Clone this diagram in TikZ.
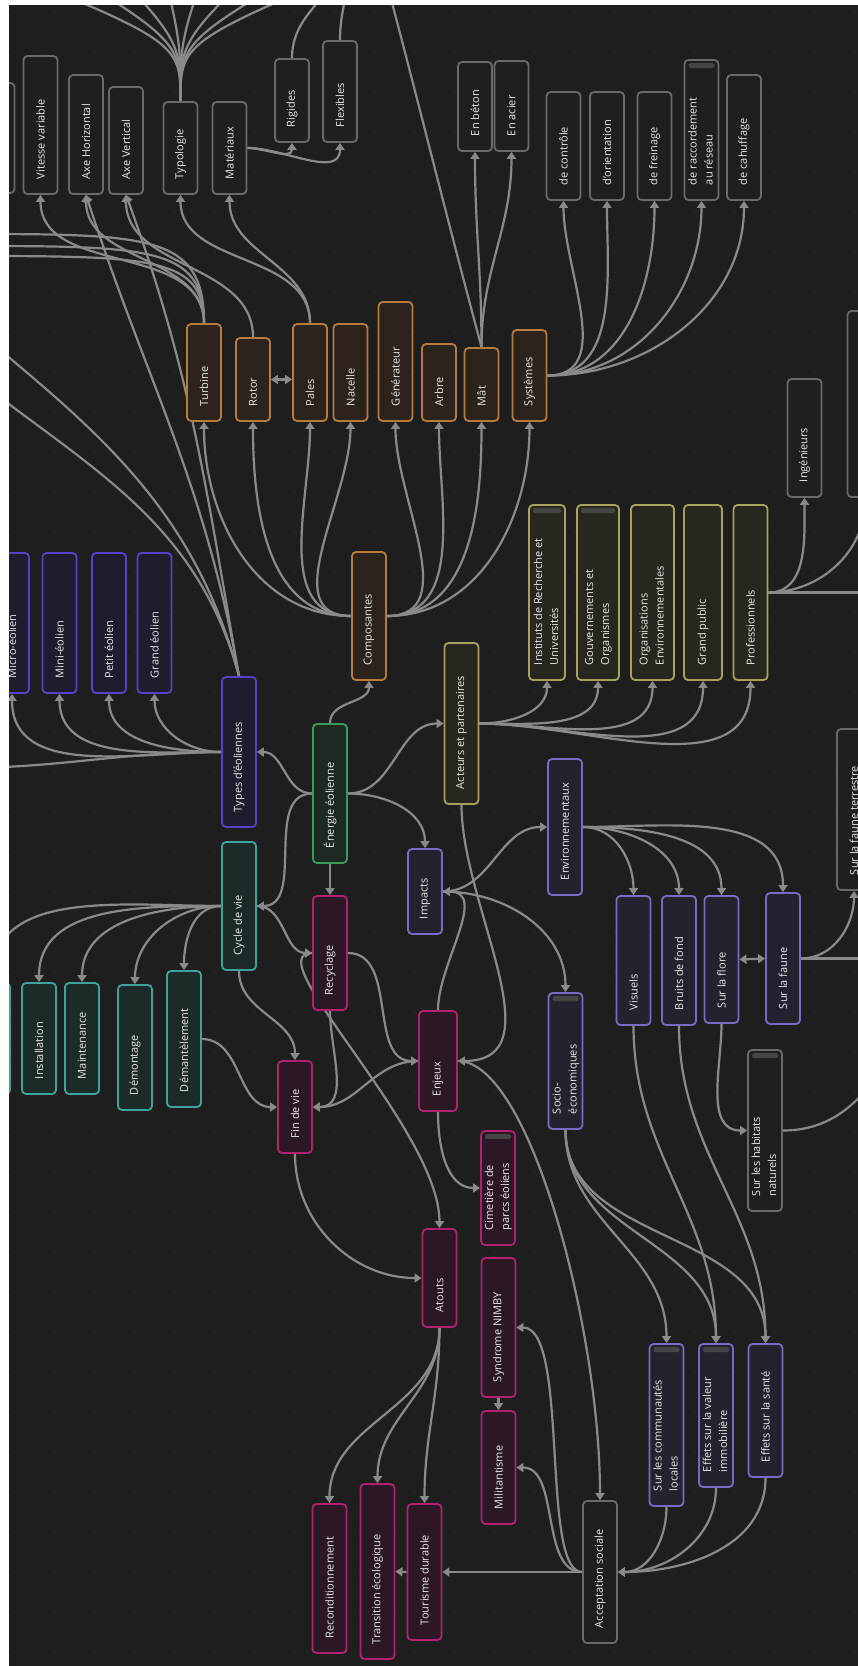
\documentclass[tikz,border=0pt]{standalone}
\usepackage{fontspec}
\setmainfont{Open Sans}
\usepackage{graphicx}
\usetikzlibrary{arrows.meta}
\definecolor{fond}{HTML}{1E1E1E}
\definecolor{point}{HTML}{2C2C2C}
\definecolor{lien}{HTML}{8A8A8A}
\definecolor{txt}{HTML}{E8E8E8}
\definecolor{barre}{HTML}{454545}
\definecolor{grisb}{HTML}{6A6A6A}
\definecolor{grisf}{HTML}{1F1F1F}
\definecolor{orb}{HTML}{B87B3F}
\definecolor{orf}{HTML}{2C241C}
\definecolor{blb}{HTML}{5A40C8}
\definecolor{blf}{HTML}{1F1C2E}
\definecolor{gnb}{HTML}{3C9A5E}
\definecolor{gnf}{HTML}{1C2A21}
\definecolor{tlb}{HTML}{3FA39B}
\definecolor{tlf}{HTML}{1C2A2A}
\definecolor{mgb}{HTML}{B0236C}
\definecolor{mgf}{HTML}{2B1824}
\definecolor{olb}{HTML}{A5A35C}
\definecolor{olf}{HTML}{28271F}
\definecolor{lvb}{HTML}{7C69C4}
\definecolor{lvf}{HTML}{25222F}
% rotated labels, set from the bottom of the box
\newcommand{\vt}[2]{\rotatebox{90}{\makebox[\dimexpr#1pt-30pt\relax][l]{#2}}}
\newcommand{\vtt}[3]{\rotatebox{90}{\makebox[\dimexpr#1pt-30pt\relax][l]{\begin{tabular}{@{}l@{}}#2\\#3\end{tabular}}}}
\pgfdeclarelayer{back}
\pgfdeclarelayer{links}
\pgfsetlayers{back,links,main}

\begin{document}
\begin{tikzpicture}[x=1pt,y=-1pt,
    box/.style={draw, line width=1.8pt, rounded corners=4pt, inner sep=0pt,
                minimum width=34, text=txt, font=\fontsize{11}{16}\selectfont},
    gr/.style={box, draw=grisb, fill=grisf},
    or/.style={box, draw=orb, fill=orf},
    bl/.style={box, draw=blb, fill=blf},
    gn/.style={box, draw=gnb, fill=gnf},
    tl/.style={box, draw=tlb, fill=tlf},
    mg/.style={box, draw=mgb, fill=mgf},
    ol/.style={box, draw=olb, fill=olf},
    lv/.style={box, draw=lvb, fill=lvf},
    hdr/.style={path picture={\fill[barre, rounded corners=1.5pt]
        ([xshift=4pt,yshift=-3pt]path picture bounding box.north west) rectangle
        ([xshift=-4pt,yshift=-8pt]path picture bounding box.north east);}},
    arr/.style={draw=lien, line width=2.2pt, -{Triangle[length=7pt,width=9pt]}},
    ln/.style={draw=lien, line width=2.2pt},
    dbl/.style={draw=lien, line width=2.2pt,
                {Triangle[length=7pt,width=9pt]}-{Triangle[length=7pt,width=9pt]}}]
\useasboundingbox (0,0) rectangle (858,1666);
\begin{pgfonlayer}{back}
  \fill[fond] (0,0) rectangle (858,1666);
  \foreach \i in {0,...,42} {
    \foreach \j in {0,...,83} {
      \fill[point] (\i*20+15,\j*20+12) circle[radius=0.8pt];
    }
  }
\end{pgfonlayer}

% centre
\node[gn, minimum height=139] (ee) at (330,793.5) {\vt{139}{Énergie éolienne}};

% composantes
\node[or, minimum height=128] (compo) at (369,616) {\vt{128}{Composantes}};
\node[or, minimum height=97] (turbine) at (204,372.5) {\vt{97}{Turbine}};
\node[or, minimum height=83] (rotor) at (253,379.5) {\vt{83}{Rotor}};
\node[or, minimum height=97] (pales) at (310,372.5) {\vt{97}{Pales}};
\node[or, minimum height=97] (nacelle) at (350.5,372.5) {\vt{97}{Nacelle}};
\node[or, minimum height=119] (gener) at (395.5,361.5) {\vt{119}{Générateur}};
\node[or, minimum height=77] (arbre) at (439,382.5) {\vt{77}{Arbre}};
\node[or, minimum height=73] (mat) at (481.5,384.5) {\vt{73}{Mât}};
\node[or, minimum height=91] (syst) at (529.5,375.5) {\vt{91}{Systèmes}};

\node[gr, minimum height=110] (vfixe) at (-2.5,138) {};
\node[gr, minimum height=138] (vitesse) at (40.5,125) {\vt{138}{Vitesse variable}};
\node[gr, minimum height=119] (axeh) at (86,134.5) {\vt{119}{Axe Horizontal}};
\node[gr, minimum height=107] (axev) at (126,140.5) {\vt{107}{Axe Vertical}};
\node[gr, minimum height=92] (typo) at (180.5,148) {\vt{92}{Typologie}};
\node[gr, minimum height=92] (mater) at (229.5,148) {\vt{92}{Matériaux}};
\node[gr, minimum height=83] (rigides) at (292,100.5) {\vt{83}{Rigides}};
\node[gr, minimum height=101] (flex) at (340,91.5) {\vt{101}{Flexibles}};
\node[gr, minimum height=89] (beton) at (475,106.5) {\vt{89}{En béton}};
\node[gr, minimum height=90] (acier) at (511.5,106) {\vt{90}{En acier}};
\node[gr, minimum height=108] (ctrl) at (563.5,146) {\vt{108}{de contrôle}};
\node[gr, minimum height=108] (orient) at (607,146) {\vt{108}{d'orientation}};
\node[gr, minimum height=108] (frein) at (654.5,146) {\vt{108}{de freinage}};
\node[gr, hdr, minimum height=140] (raccord) at (701.5,130) {\vtt{140}{de raccordement}{au réseau}};
\node[gr, minimum height=125] (chauf) at (744,137.5) {\vt{125}{de cahuffage}};

% types
\node[bl, minimum height=150] (types) at (239,752) {\vt{150}{Types d'éoliennes}};
\node[bl, minimum height=140] (micro) at (12,623) {\vt{140}{Micro-éolien}};
\node[bl, minimum height=140] (mini) at (59.5,623) {\vt{140}{Mini-éolien}};
\node[bl, minimum height=140] (petit) at (109,623) {\vt{140}{Petit éolien}};
\node[bl, minimum height=140] (grand) at (154.5,623) {\vt{140}{Grand éolien}};

% cycle de vie
\node[tl, minimum height=128] (cycle) at (239,906) {\vt{128}{Cycle de vie}};
\node[tl, minimum height=111] (tealp) at (-7,1038.5) {};
\node[tl, minimum height=111] (install) at (39,1038.5) {\vt{111}{Installation}};
\node[tl, minimum height=111] (maint) at (82,1038.5) {\vt{111}{Maintenance}};
\node[tl, minimum height=125] (demont) at (135,1047.5) {\vt{125}{Démontage}};
\node[tl, minimum height=136] (deman) at (184,1039) {\vt{136}{Démantèlement}};

% recyclage, enjeux
\node[mg, minimum height=114] (recyc) at (330,953) {\vt{114}{Recyclage}};
\node[mg, minimum height=92] (finvie) at (295,1107) {\vt{92}{Fin de vie}};
\node[mg, minimum width=38, minimum height=100] (enjeux) at (438,1061) {\vt{100}{Enjeux}};
\node[mg, hdr, minimum height=114] (cimet) at (498,1188) {\vtt{114}{Cimetière de}{parcs éoliens}};
\node[mg, minimum height=98] (atouts) at (439.5,1278) {\vt{98}{Atouts}};
\node[mg, minimum height=139] (nimby) at (498.5,1327.5) {\vt{139}{Syndrome NIMBY}};
\node[mg, minimum height=113] (milit) at (498.5,1467.5) {\vt{113}{Militantisme}};
\node[mg, minimum height=149] (recond) at (329.5,1578.5) {\vt{149}{Reconditionnement}};
\node[mg, minimum height=175] (transi) at (377.5,1571.5) {\vt{175}{Transition écologique}};
\node[mg, minimum height=136] (touris) at (424.5,1572) {\vt{136}{Tourisme durable}};
\node[gr, minimum height=142] (accept) at (600,1572) {\vt{142}{Acceptation sociale}};

% acteurs
\node[ol, minimum height=161] (acteurs) at (461.5,723.5) {\vt{161}{Acteurs et partenaires}};
\node[ol, hdr, minimum width=36, minimum height=175] (instit) at (547,592.5) {\vtt{175}{Instituts de Recherche et}{Universités}};
\node[ol, hdr, minimum width=42, minimum height=175] (gouv) at (598,592.5) {\vtt{175}{Gouvernements et}{Organismes}};
\node[ol, minimum width=43, minimum height=175] (orga) at (652.5,592.5) {\vtt{175}{Organisations}{Environnementales}};
\node[ol, minimum width=38, minimum height=175] (gpublic) at (703,592.5) {\vt{175}{Grand public}};
\node[ol, minimum height=175] (profs) at (750.5,592.5) {\vt{175}{Professionnels}};
\node[gr, minimum height=118] (ingen) at (804.5,438) {\vt{118}{Ingénieurs}};
\node[gr, minimum height=186] (autres) at (864.5,404) {};

% impacts
\node[lv, minimum height=85] (impacts) at (425,891.5) {\vt{85}{Impacts}};
\node[lv, minimum height=136] (envir) at (565,827) {\vt{136}{Environnementaux}};
\node[lv, hdr, minimum height=136] (socio) at (565.5,1061) {\vtt{136}{Socio-}{économiques}};
\node[lv, minimum height=129] (visuels) at (633.5,960.5) {\vt{129}{Visuels}};
\node[lv, minimum height=129] (bruits) at (679,960.5) {\vt{129}{Bruits de fond}};
\node[lv, minimum height=127] (flore) at (721.5,959.5) {\vt{127}{Sur la flore}};
\node[lv, minimum height=131] (faune) at (783,958.5) {\vt{131}{Sur la faune}};
\node[gr, minimum height=161] (faunet) at (854,809.5) {\vt{161}{Sur la faune terrestre}};
\node[gr, hdr, minimum height=161] (habitats) at (765,1130.5) {\vtt{161}{Sur les habitats}{naturels}};
\node[lv, hdr, minimum height=162] (commun) at (666.5,1425) {\vtt{162}{Sur les communautés}{locales}};
\node[lv, hdr, minimum height=143] (immo) at (716,1415.5) {\vtt{143}{Effets sur la valeur}{immobilière}};
\node[lv, minimum height=133] (sante) at (765.5,1410.5) {\vt{133}{Effets sur la santé}};

\begin{pgfonlayer}{links}
  % énergie éolienne
  \draw[arr] (ee.north) to[out=90,in=-90] (compo.south);
  \draw[arr] (ee.west) to[out=180,in=0] (types.east);
  \draw[arr] (ee.west) to[out=180,in=0] (cycle.east);
  \draw[arr] (ee.south) -- (recyc.north);
  \draw[arr] (ee.east) to[out=0,in=180] (acteurs.west);
  \draw[arr] (ee.east) to[out=0,in=90] (impacts.north);
  % composantes
  \foreach \c in {turbine,rotor,pales,nacelle}
    \draw[arr] (compo.west) to[out=180,in=-90] (\c.south);
  \foreach \c in {gener,arbre,mat,syst}
    \draw[arr] (compo.east) to[out=0,in=-90] (\c.south);
  \draw[dbl] (rotor.east) -- (rotor.east -| pales.west);
  \foreach \c in {ctrl,orient,frein,raccord,chauf}
    \draw[arr] (syst.east) to[out=0,in=-90] (\c.south);
  \draw[arr] (mat.north) to[out=90,in=-90] (beton.south);
  \draw[arr] (mat.north) to[out=90,in=-90] (acier.south);
  \draw[ln] (mat.north) to[out=105,in=-75] (378,-50);
  \draw[arr] (pales.north) to[out=90,in=-90] (typo.south);
  \draw[arr] (pales.north) to[out=90,in=-90] (mater.south);
  \draw[arr] (rotor.north) to[out=90,in=-90] (axev.south);
  \draw[arr] (turbine.north) to[out=90,in=-90] (axeh.south);
  \draw[arr] (turbine.north) to[out=90,in=-90] (vitesse.south);
  \foreach \y in {234,246,256}
    \draw[ln] (turbine.north) .. controls (204,\y) and (150,\y) .. (-40,\y);
  \draw[arr] (mater.east) to[out=0,in=-90] (rigides.south);
  \draw[arr] (mater.east) to[out=0,in=-90] (flex.south);
  \draw[ln] (rigides.north) to[out=90,in=-110] (345,-40);
  \draw[ln] (flex.north) to[out=90,in=-95] (352,-40);
  \foreach \x in {-75,14,85,156,215,285,356,427}
    \draw[ln] (typo.north) .. controls (180.5,40) .. (\x,-60);
  % types
  \draw[arr] (types.north) to[out=100,in=-72] (axeh.south);
  \draw[arr] (types.north) to[out=100,in=-70] (axev.south);
  \foreach \y in {300,350}
    \draw[ln] (types.north) to[out=105,in=-40] (-60,\y);
  \foreach \c in {micro,mini,petit,grand}
    \draw[arr] (types.west) to[out=180,in=-90] (\c.south);
  \draw[ln] (types.west) to[out=180,in=0] (-40,768);
  % cycle de vie
  \foreach \c in {tealp,install,maint,demont,deman}
    \draw[arr] (cycle.west) to[out=180,in=90] (\c.north);
  \draw[arr] (cycle.east) to[out=0,in=180] (recyc.west);
  \draw[arr] (cycle.south) to[out=-90,in=90] (finvie.north);
  \draw[arr] (deman.east) to[out=0,in=180] (finvie.west);
  % recyclage, fin de vie
  \draw[arr] (recyc.east) to[out=0,in=180] (enjeux.west);
  \draw[arr] (recyc.south) to[out=-90,in=0] (finvie.east);
  \draw[arr] (recyc.west) .. controls (255,953) and (439.5,1130) .. (atouts.north);
  \draw[arr] (enjeux.west) to[out=180,in=0] (finvie.east);
  \draw[arr] (finvie.south) to[out=-90,in=180] (atouts.west);
  % enjeux
  \draw[arr] (enjeux.north) to[out=90,in=0] (impacts.east);
  \draw[arr] (acteurs.south) to[out=-90,in=0] (enjeux.east);
  \draw[arr] (enjeux.east) .. controls (530,1061) and (600,1330) .. (accept.north);
  \draw[arr] (enjeux.south) to[out=-90,in=180] (cimet.west);
  % atouts
  \foreach \c in {recond,transi,touris}
    \draw[arr] (atouts.south) to[out=-90,in=90] (\c.north);
  \draw[arr] (touris.west) -- (transi.east);
  % acceptation sociale
  \draw[arr] (accept.west) -- (touris.east);
  \draw[arr] (accept.west) .. controls (540,1572) and (560,1467.5) .. (milit.east);
  \draw[arr] (accept.west) .. controls (540,1572) and (570,1327.5) .. (nimby.east);
  \draw[arr] (nimby.south) -- (milit.north);
  % impacts
  \draw[arr] (impacts.east) to[out=0,in=180] (envir.west);
  \draw[arr] (impacts.east) to[out=0,in=90] (socio.north);
  \foreach \c in {visuels,bruits,flore,faune}
    \draw[arr] (envir.east) to[out=0,in=90] (\c.north);
  \draw[dbl] (flore.east) -- (faune.west);
  \draw[arr] (faune.east) to[out=0,in=-90] (faunet.south);
  \draw[ln] (faune.east) -- (900,958.5);
  \draw[arr] (flore.south) to[out=-90,in=180] (habitats.west);
  \draw[ln] (habitats.east) to[out=0,in=-120] (900,1040);
  \foreach \c in {commun,immo,sante}
    \draw[arr] (socio.south) to[out=-90,in=90] (\c.north);
  \draw[arr] (visuels.south) to[out=-90,in=90] (immo.north);
  \draw[arr] (bruits.south) to[out=-90,in=90] (sante.north);
  \foreach \c in {commun,immo,sante}
    \draw[arr] (\c.south) to[out=-90,in=0] (accept.east);
  % acteurs
  \foreach \c in {instit,gouv,orga,gpublic,profs}
    \draw[arr] (acteurs.east) to[out=0,in=-90] (\c.south);
  \draw[arr] (profs.east) to[out=0,in=-90] (ingen.south);
  \draw[arr] (profs.east) to[out=0,in=-90] (autres.south);
  \draw[ln] (profs.east) -- (900,592.5);
\end{pgfonlayer}

% marges blanches
\fill[white] (0,0) rectangle (9,1666);
\fill[white] (0,0) rectangle (858,5);
\end{tikzpicture}
\end{document}
